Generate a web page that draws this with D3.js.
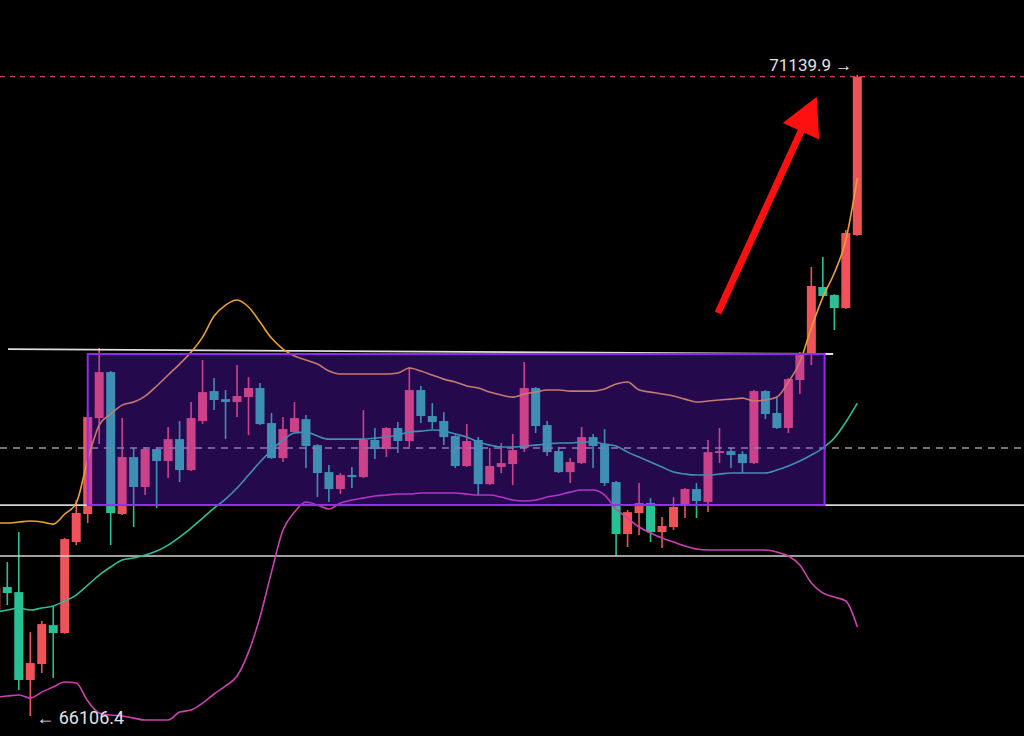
<!DOCTYPE html>
<html><head><meta charset="utf-8">
<script src="https://cdn.jsdelivr.net/npm/d3@7"></script>
<style>html,body{margin:0;padding:0;background:#000;overflow:hidden}</style>
</head><body>
<svg id="chart" width="1024" height="736"></svg>
<script>
// ---------- data ----------
const firstIndex = -1;
const opens = [66938,67119,67079,66389,66514,66820,66758,67472,67692,68445,68806,67692,68139,67904,68202,68108,68280,68037,68422,68657,68594,68571,68610,68681,68406,68131,68335,68437,68233,68021,67888,67998,67982,68273,68202,68367,68265,68665,68461,68422,68304,68069,68273,67927,68061,68084,68210,68681,68390,68186,68021,68092,68296,68241,67943,67535,67700,67778,67550,67590,67755,67888,67786,68171,68186,68163,68092,68657,68485,68367,68744,68940,69474,69411,69309,69882];
const closes = [67111,67072,66389,66522,66828,66758,67495,67700,68453,68806,67700,68139,67904,68202,68108,68280,68037,68445,68649,68587,68571,68618,68681,68398,68131,68359,68445,68226,68014,67888,67998,67982,68273,68202,68367,68265,68665,68461,68414,68296,68069,68265,67927,68069,68092,68194,68681,68383,68178,68021,68100,68296,68226,67935,67535,67707,67778,67550,67598,67747,67888,67794,68178,68186,68155,68092,68657,68477,68367,68751,68940,69482,69403,69309,69898,71125];
const highs = [67127,67315,67550,66765,66852,66970,67503,67802,68492,68995,68814,68445,68210,68218,68218,68375,68422,68571,68901,68759,68665,68861,68767,68720,68485,68453,68571,68469,68240,68076,68014,68061,68508,68367,68375,68414,68846,68697,68563,68492,68310,68398,68296,68210,68249,68320,68885,68689,68422,68218,68131,68375,68320,68359,67951,67723,67935,67817,67668,67825,67896,67935,68273,68367,68210,68186,68665,68665,68610,68759,68963,69631,69709,69418,69921,71139.9];
const lows = [66922,66977,66310,66106.4,66444,66404,66752,67448,67621,68241,67448,67684,67590,67841,67739,67974,67943,68030,68398,68508,68280,68453,68312,68390,68125,68100,68330,68053,67825,67786,67849,67896,67975,68123,68139,68171,68218,68406,68359,68233,68053,68062,67841,67920,68014,67919,68178,68328,68147,68014,67935,68084,68053,67912,67362,67433,67527,67472,67425,67566,67660,67660,67707,68092,68053,68014,68085,68437,68359,68328,68634,68861,69395,69136,69302,69875];

const upperBand = [67621,67621,67629,67637,67629,67613,67692,67778,68116,68390,68477,68547,68571,68618,68697,68783,68869,68963,69081,69246,69332,69372,69317,69199,69073,68987,68932,68901,68869,68814,68791,68791,68791,68791,68791,68799,68838,68814,68783,68751,68728,68697,68681,68649,68626,68610,68634,68649,68665,68665,68657,68657,68657,68673,68712,68728,68665,68649,68634,68618,68594,68571,68579,68587,68594,68602,68579,68587,68610,68728,68885,69152,69395,69584,69843,70329];
const middleBand = [66922,66938,66954,66938,66954,66970,67009,67056,67134,67213,67276,67331,67346,67370,67401,67448,67511,67582,67660,67739,67809,67896,67998,68100,68194,68273,68328,68335,68304,68280,68280,68280,68280,68288,68296,68312,68335,68343,68351,68343,68320,68296,68257,68233,68218,68218,68226,68233,68241,68249,68249,68257,68257,68241,68226,68178,68139,68100,68061,68021,68006,67998,67998,68006,68014,68014,68014,68014,68037,68069,68108,68155,68210,68288,68414,68563];
const lowerBand = [66255,66263,66271,66247,66294,66334,66373,66365,66224,66130,66114,66106,66090,66075,66075,66075,66137,66153,66208,66279,66342,66420,66608,66883,67236,67566,67707,67786,67762,67731,67778,67802,67817,67833,67841,67849,67849,67857,67857,67857,67857,67849,67841,67841,67825,67802,67794,67802,67825,67841,67864,67880,67880,67841,67731,67660,67590,67543,67503,67472,67441,67417,67409,67409,67409,67409,67409,67409,67393,67362,67291,67150,67072,67040,67009,66805];

const supportLevels = [67762, 67362];      // solid white horizontal lines
const midLevel = 68210;                    // grey dashed line
const boxIndex = [7, 71.15];               // consolidation range (candle index)
const boxPrice = [67762, 68948];
const trendIndex = [0.06, 71.9];           // upper white line
const trendPrice = [68987, 68948];
const arrowIndex = [61.87, 70.47];
const arrowPrice = [69270, 70968];
const highLabelText = "71139.9 \u2192";
const lowLabelText = "\u2190 66106.4";

// ---------- scales ----------
const W = 1024, H = 736;
const x = d3.scaleLinear().domain([0, 74]).range([7.3, 857.3]);
const y = d3.scaleLinear().domain([66106.4, 71139.9]).range([716, 74.8]);

const candles = opens.map((o, k) => ({
  i: k + firstIndex, o, c: closes[k], h: highs[k], l: lows[k]
}));

const UP = "#f0525a", DOWN = "#27c196";
const svg = d3.select("#chart");
svg.append("rect").attr("width", W).attr("height", H).attr("fill", "#000");

const g = svg.append("g");

// candles
const cg = g.append("g");
cg.selectAll("line.wick").data(candles).join("line")
  .attr("x1", d => x(d.i)).attr("x2", d => x(d.i))
  .attr("y1", d => y(d.h)).attr("y2", d => y(d.l))
  .attr("stroke", d => d.c >= d.o ? UP : DOWN).attr("stroke-width", 1.6);
const bw = 9;
cg.selectAll("rect.body").data(candles).join("rect")
  .attr("x", d => x(d.i) - bw / 2).attr("width", bw)
  .attr("y", d => y(Math.max(d.o, d.c)))
  .attr("height", d => Math.max(1.5, Math.abs(y(d.o) - y(d.c))))
  .attr("fill", d => d.c >= d.o ? UP : DOWN);

// horizontal levels
g.append("line").attr("x1", 0).attr("x2", W)
  .attr("y1", y(midLevel)).attr("y2", y(midLevel))
  .attr("stroke", "#9a9a9a").attr("stroke-width", 1.5).attr("stroke-dasharray", "7,6");
g.selectAll("line.sup").data(supportLevels).join("line")
  .attr("x1", 0).attr("x2", W).attr("y1", d => y(d)).attr("y2", d => y(d))
  .attr("stroke", "#d4d4d4").attr("stroke-width", 1.6);
g.append("line")
  .attr("x1", x(trendIndex[0])).attr("x2", x(trendIndex[1]))
  .attr("y1", y(trendPrice[0])).attr("y2", y(trendPrice[1]))
  .attr("stroke", "#dedede").attr("stroke-width", 1.8);

// bollinger bands
const line = d3.line().x((v, k) => x(k + firstIndex)).y(v => y(v)).curve(d3.curveMonotoneX);
[[upperBand, "#eaa132"], [middleBand, "#2bbf98"], [lowerBand, "#cc40b0"]].forEach(([arr, col]) => {
  g.append("path").attr("d", line(arr)).attr("fill", "none")
    .attr("stroke", col).attr("stroke-width", 1.6);
});

// consolidation box (translucent overlay)
g.append("rect")
  .attr("x", x(boxIndex[0])).attr("width", x(boxIndex[1]) - x(boxIndex[0]))
  .attr("y", y(boxPrice[1])).attr("height", y(boxPrice[0]) - y(boxPrice[1]))
  .attr("fill", "rgb(120,30,255)").attr("fill-opacity", 0.3)
  .attr("stroke", "#8c2ee6").attr("stroke-width", 2);

// last price dashed line
const last = candles[candles.length - 1];
g.append("line").attr("x1", 0).attr("x2", W)
  .attr("y1", y(last.c)).attr("y2", y(last.c))
  .attr("stroke", "#c8465a").attr("stroke-width", 1.3).attr("stroke-dasharray", "5,5");

// red arrow
const ax0 = x(arrowIndex[0]), ay0 = y(arrowPrice[0]);
const ax1 = x(arrowIndex[1]), ay1 = y(arrowPrice[1]);
const len = Math.hypot(ax1 - ax0, ay1 - ay0);
const ux = (ax1 - ax0) / len, uy = (ay1 - ay0) / len;
const headL = 38, headW = 20;
const bx = ax1 - ux * headL, by = ay1 - uy * headL;
g.append("line").attr("x1", ax0).attr("y1", ay0).attr("x2", bx + ux * 4).attr("y2", by + uy * 4)
  .attr("stroke", "#ff1010").attr("stroke-width", 7);
g.append("path")
  .attr("d", `M${ax1},${ay1}L${bx - uy * headW},${by + ux * headW}L${bx + uy * headW},${by - ux * headW}Z`)
  .attr("fill", "#ff1010");

// labels
const hiIdx = highs.indexOf(d3.max(highs));
const loIdx = lows.indexOf(d3.min(lows));
g.append("text").text(highLabelText)
  .attr("x", x(hiIdx + firstIndex) - 5).attr("y", y(highs[hiIdx]) - 4)
  .attr("text-anchor", "end").attr("font-family", "Roboto, sans-serif")
  .attr("font-size", 17).attr("fill", "#e2e2e2");
g.append("text").text(lowLabelText)
  .attr("x", x(loIdx + firstIndex) + 6).attr("y", y(lows[loIdx]) + 8)
  .attr("font-family", "Roboto, sans-serif")
  .attr("font-size", 18).attr("fill", "#e2e2e2");
</script>
</body></html>
